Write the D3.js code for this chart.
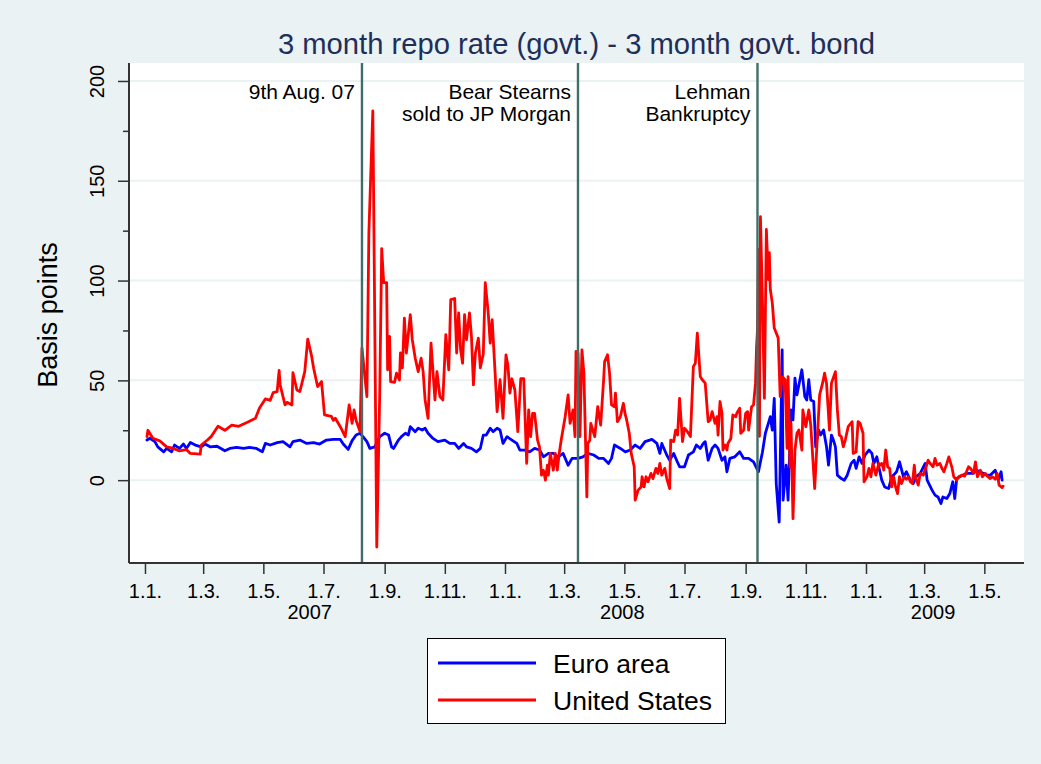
<!DOCTYPE html>
<html>
<head>
<meta charset="utf-8">
<script src="https://cdn.jsdelivr.net/npm/d3@7/dist/d3.min.js"></script>
<style>
  html, body { margin: 0; padding: 0; background: #eaf2f3; }
  svg { display: block; font-family: "Liberation Sans", Arial, sans-serif; }
</style>
</head>
<body>
<svg id="chart" width="1041" height="764"></svg>
<script>
// ---------------- DATA ----------------
const chartTitle = "3 month repo rate (govt.) - 3 month govt. bond";
const yAxisTitle = "Basis points";
const seriesNames = ["Euro area", "United States"];
const seriesColors = ["#0000ff", "#ff0000"];

const yTicks = [0, 50, 100, 150, 200];
const yMinorTicks = [25, 75, 125, 175];
const xTickDates = ["2007-01-01","2007-03-01","2007-05-01","2007-07-01","2007-09-01","2007-11-01",
  "2008-01-01","2008-03-01","2008-05-01","2008-07-01","2008-09-01","2008-11-01",
  "2009-01-01","2009-03-01","2009-05-01"];
const yearLabels = ["2007", "2008", "2009"];
const yearLabelDates = ["2007-06-17", "2008-04-29", "2009-03-10"];

const eventDates = ["2007-08-09", "2008-03-15", "2008-09-13"];
const eventLabels = [["9th Aug. 07"], ["Bear Stearns", "sold to JP Morgan"], ["Lehman", "Bankruptcy"]];

// Euro area
const euDates = [
"2007-01-03","2007-01-06","2007-01-11","2007-01-14","2007-01-20","2007-01-23","2007-01-28","2007-01-31",
"2007-02-05","2007-02-09","2007-02-12","2007-02-16","2007-02-21","2007-02-27","2007-03-03","2007-03-08",
"2007-03-15","2007-03-23","2007-03-28","2007-04-04","2007-04-11","2007-04-17","2007-04-24","2007-04-30",
"2007-05-03","2007-05-08","2007-05-15","2007-05-21","2007-05-28","2007-05-31","2007-06-07","2007-06-14",
"2007-06-21","2007-06-27","2007-07-04","2007-07-11","2007-07-18","2007-07-21","2007-07-26","2007-07-30",
"2007-08-03","2007-08-07","2007-08-10","2007-08-14","2007-08-17","2007-08-22","2007-08-27","2007-09-01",
"2007-09-05","2007-09-08","2007-09-10","2007-09-15","2007-09-18","2007-09-22","2007-09-25","2007-09-27",
"2007-10-02","2007-10-05","2007-10-09","2007-10-12","2007-10-15","2007-10-20","2007-10-25","2007-11-01",
"2007-11-06","2007-11-11","2007-11-15","2007-11-20","2007-11-23","2007-11-28","2007-12-03","2007-12-07",
"2007-12-10","2007-12-13","2007-12-17","2007-12-20","2007-12-24","2007-12-27","2007-12-30",
"2008-01-03","2008-01-08","2008-01-13","2008-01-16","2008-01-21","2008-01-26","2008-01-31","2008-02-05",
"2008-02-09","2008-02-14","2008-02-19","2008-02-24","2008-02-29","2008-03-05","2008-03-09","2008-03-15",
"2008-03-20","2008-03-25","2008-03-31","2008-04-05","2008-04-10","2008-04-15","2008-04-18","2008-04-21",
"2008-04-27","2008-05-02","2008-05-07","2008-05-12","2008-05-17","2008-05-22","2008-05-29","2008-06-03",
"2008-06-06","2008-06-08","2008-06-13","2008-06-16","2008-06-20","2008-06-23","2008-06-26","2008-07-01",
"2008-07-05","2008-07-10","2008-07-13","2008-07-17","2008-07-20","2008-07-22","2008-07-25","2008-07-29",
"2008-08-01","2008-08-04","2008-08-08","2008-08-11","2008-08-13","2008-08-16","2008-08-21","2008-08-26",
"2008-08-30","2008-09-04","2008-09-09","2008-09-14","2008-09-16","2008-09-18","2008-09-21","2008-09-24",
"2008-09-26","2008-09-28","2008-09-30","2008-10-02","2008-10-05","2008-10-08","2008-10-09","2008-10-12",
"2008-10-14","2008-10-17","2008-10-19","2008-10-21","2008-10-23","2008-10-26","2008-10-28","2008-10-31",
"2008-11-02","2008-11-04","2008-11-06","2008-11-09","2008-11-11","2008-11-14","2008-11-16","2008-11-19",
"2008-11-22","2008-11-24","2008-11-27","2008-11-29","2008-12-01","2008-12-03","2008-12-07","2008-12-10",
"2008-12-13","2008-12-17","2008-12-20","2008-12-22","2008-12-25","2008-12-28","2008-12-31",
"2009-01-04","2009-01-07","2009-01-09","2009-01-12","2009-01-14","2009-01-17","2009-01-20","2009-01-24",
"2009-01-27","2009-01-29","2009-02-01","2009-02-04","2009-02-08","2009-02-11","2009-02-15","2009-02-18",
"2009-02-21","2009-02-25","2009-03-02","2009-03-04","2009-03-09","2009-03-12","2009-03-15","2009-03-18",
"2009-03-20","2009-03-24","2009-03-27","2009-03-30","2009-04-01","2009-04-03","2009-04-06","2009-04-09",
"2009-04-13","2009-04-16","2009-04-20","2009-04-23","2009-04-27","2009-04-30","2009-05-04","2009-05-07",
"2009-05-12","2009-05-15","2009-05-18","2009-05-19"];
const euValues = [
20.1,21,19.3,16.7,14.2,15.9,14.2,17.6,
15.9,18.1,15.9,18.9,17.6,16.7,18.1,16.7,
17,14.7,15.9,16.4,15.9,16.4,15.9,14.2,
18.4,17.6,18.8,19.3,16.7,19.3,20.1,18.4,
18.8,18.1,20.1,20.4,20.4,18.1,15.4,19.8,
22.6,23.5,21.8,19.3,15.9,16.7,21.8,23.5,
22.6,16.7,15.9,20.1,21.8,23.5,22.6,26.8,
24.3,26,25.1,26,23.5,20.9,19.3,20.1,
18.4,18.4,15.9,18.4,16.7,15.9,14.2,15.9,
22.6,22.6,26,24.3,26,25.1,18.4,
21.8,20.1,18.4,15.1,15.1,14.2,15.9,15.1,
11.7,13.4,13.4,11.7,13.4,7.5,10.9,10.9,
11.7,13.4,12.6,10.9,10.9,8.4,10.9,17.6,
15.9,14.2,15.1,17.6,15.9,19.3,20.4,18.4,
13.4,18.4,12.6,10,13.4,10,6.7,6.7,
12.6,14.2,17.6,15.9,18.4,19.3,10,15.9,
17.6,15.9,10,11.7,4.2,10.9,11.7,14.2,
10.9,10.9,9.2,4.2,9.2,14,23.5,28.5,
31.8,25.1,41,-1.7,-21,65.3,-10,7.5,
-10,35.2,30.2,51.1,42.7,50.3,55.3,41.9,
40.2,50.3,40.2,39.4,16.7,25.1,22.6,25.1,
16.7,7.5,22.6,20.1,16.7,2.5,0.8,0,
2.5,8.4,10,5.9,11.7,8.4,12.6,
15.1,13.4,8.4,11.7,6.7,0,-3.4,-4.2,
1.7,2.5,4.2,9.2,1.7,4.2,0,-1.7,
1.7,3.4,8.4,0,-5,-7.5,-8.4,-11.7,
-8.4,-9.2,-6.7,-0.8,-9.2,0.8,1.7,2.5,
3.4,3.4,3.4,5,4.2,3.4,2.5,2.5,
5,0,4.2,0];

// United States
const usDates = [
"2007-01-03","2007-01-04","2007-01-09","2007-01-16","2007-01-23","2007-01-29","2007-02-05","2007-02-12",
"2007-02-16","2007-02-26","2007-02-27","2007-03-05","2007-03-09","2007-03-16","2007-03-23","2007-03-30",
"2007-04-06","2007-04-16","2007-04-23","2007-04-27","2007-05-03","2007-05-08","2007-05-11","2007-05-15",
"2007-05-17","2007-05-18","2007-05-23","2007-05-25","2007-05-30","2007-05-31","2007-06-04","2007-06-07",
"2007-06-12","2007-06-15","2007-06-19","2007-06-21","2007-06-25","2007-06-29","2007-07-02","2007-07-09",
"2007-07-11","2007-07-13","2007-07-18","2007-07-23","2007-07-27","2007-07-30","2007-08-01","2007-08-03",
"2007-08-07","2007-08-09","2007-08-14","2007-08-16","2007-08-20","2007-08-21","2007-08-24","2007-08-27",
"2007-08-29","2007-08-31","2007-09-03","2007-09-04","2007-09-06","2007-09-07","2007-09-11","2007-09-13",
"2007-09-16","2007-09-17","2007-09-19","2007-09-21","2007-09-23","2007-09-27","2007-09-29","2007-10-02",
"2007-10-05","2007-10-08","2007-10-10","2007-10-12","2007-10-15","2007-10-18","2007-10-22","2007-10-24",
"2007-10-27","2007-10-30","2007-11-02","2007-11-05","2007-11-07","2007-11-11","2007-11-13","2007-11-15",
"2007-11-17","2007-11-19","2007-11-21","2007-11-23","2007-11-26","2007-11-28","2007-11-30","2007-12-02",
"2007-12-05","2007-12-07","2007-12-10","2007-12-12","2007-12-15","2007-12-17","2007-12-19","2007-12-22",
"2007-12-24","2007-12-27","2007-12-30",
"2008-01-02","2008-01-04","2008-01-06","2008-01-08","2008-01-11","2008-01-14","2008-01-17","2008-01-20",
"2008-01-23","2008-01-25","2008-01-27","2008-01-29","2008-01-31","2008-02-03","2008-02-05","2008-02-07",
"2008-02-09","2008-02-11","2008-02-13","2008-02-14","2008-02-16","2008-02-19","2008-02-21","2008-02-23",
"2008-02-25","2008-02-27","2008-03-02","2008-03-05","2008-03-07","2008-03-10","2008-03-12","2008-03-13",
"2008-03-15","2008-03-17","2008-03-19","2008-03-21","2008-03-24","2008-03-25","2008-03-27","2008-03-28",
"2008-03-31","2008-04-01","2008-04-04","2008-04-05","2008-04-07","2008-04-10","2008-04-11","2008-04-14",
"2008-04-16","2008-04-18","2008-04-21","2008-04-22","2008-04-24","2008-04-27","2008-04-30","2008-05-02",
"2008-05-03","2008-05-06","2008-05-08","2008-05-11","2008-05-12","2008-05-15","2008-05-18","2008-05-19",
"2008-05-21","2008-05-23","2008-05-25","2008-05-28","2008-05-30","2008-06-02","2008-06-04","2008-06-06",
"2008-06-08","2008-06-11","2008-06-13","2008-06-16","2008-06-17","2008-06-20","2008-06-22","2008-06-24",
"2008-06-26","2008-06-29","2008-07-01","2008-07-04","2008-07-07","2008-07-10","2008-07-12","2008-07-14",
"2008-07-17","2008-07-19","2008-07-22","2008-07-25","2008-07-27","2008-07-29","2008-08-01","2008-08-03",
"2008-08-04","2008-08-06","2008-08-08","2008-08-09","2008-08-11","2008-08-13","2008-08-14","2008-08-17",
"2008-08-19","2008-08-22","2008-08-23","2008-08-26","2008-08-27","2008-08-30","2008-09-01","2008-09-03",
"2008-09-04","2008-09-07","2008-09-09","2008-09-11","2008-09-12","2008-09-13","2008-09-14","2008-09-15",
"2008-09-16","2008-09-18","2008-09-20","2008-09-22","2008-09-24","2008-09-25","2008-09-26","2008-09-28",
"2008-09-30","2008-10-02","2008-10-04","2008-10-06","2008-10-08","2008-10-11","2008-10-13","2008-10-14",
"2008-10-16","2008-10-17","2008-10-19","2008-10-21","2008-10-23","2008-10-25","2008-10-28","2008-10-29",
"2008-11-01","2008-11-04","2008-11-06","2008-11-10","2008-11-12","2008-11-15","2008-11-18","2008-11-20",
"2008-11-22","2008-11-25","2008-11-27","2008-12-01","2008-12-03","2008-12-05","2008-12-07","2008-12-09",
"2008-12-11","2008-12-14","2008-12-18","2008-12-19","2008-12-22","2008-12-24","2008-12-26","2008-12-29",
"2008-12-30",
"2009-01-02","2009-01-04","2009-01-06","2009-01-08","2009-01-11","2009-01-14","2009-01-15","2009-01-17",
"2009-01-19","2009-01-21","2009-01-23","2009-01-25","2009-01-27","2009-01-29","2009-01-31","2009-02-02",
"2009-02-04","2009-02-06","2009-02-09","2009-02-11","2009-02-13","2009-02-15","2009-02-17","2009-02-19",
"2009-02-20","2009-02-23","2009-02-25","2009-02-28","2009-03-03","2009-03-05","2009-03-07","2009-03-10",
"2009-03-12","2009-03-14","2009-03-17","2009-03-19","2009-03-21","2009-03-24","2009-03-26","2009-03-29",
"2009-03-31","2009-04-03","2009-04-05","2009-04-08","2009-04-11","2009-04-15","2009-04-17","2009-04-20",
"2009-04-22","2009-04-24","2009-04-27","2009-04-29","2009-05-02","2009-05-04","2009-05-07","2009-05-09",
"2009-05-12","2009-05-14","2009-05-16","2009-05-19","2009-05-20"];
const usValues = [
21.8,25,21,19.7,16.7,16,14.7,15.3,
13.4,13,17.6,20,21.8,27,25,27.6,
27,29.3,31,36,40.7,40,43.9,44.4,
55,47.7,37.7,39,37.7,53.9,45.2,44.4,
54.4,70.7,62,56.1,46.9,49.4,32.7,32,
30,31,26.8,21.8,37.7,28.5,35.2,30,
24.3,66.2,41.9,124,185,132,-33.5,43.6,
116,99,99,55.3,72,49.4,49,53.6,
50.2,63.7,56.3,81.2,63.7,82.9,70.4,61.1,
54.4,61.1,54.4,40.2,31,68.7,40.2,54.4,
41.9,40.2,72.9,55.3,90.5,91,63.7,83.8,
65.3,58.6,82.9,70.4,83.8,72,47.7,63.7,
71.2,56.3,63.2,99,83.8,68.7,80.4,53.6,
34.3,50.3,31,
62.8,57.3,43.6,50.8,45.2,24.3,50.8,50.8,
8.4,35.2,21.8,33.5,33.5,20.1,16.7,2.5,
5,0,7.5,2.5,13.4,5,13.4,5,
13.4,20.1,31.8,42.7,28.5,35.2,21.8,64.5,
63.7,21.8,65.3,53.6,-8.4,18.4,20,28.5,
23.5,21.8,36.8,33.5,27.6,50.3,59.4,62.8,
53.6,37.7,36.8,43.6,29.3,31.8,38.5,32.7,
31,23.5,13.4,6.7,-10,-5,-3.4,1.7,
-3.4,1.7,-0.8,3.4,0.8,5.9,3.4,8.4,
2.5,5.9,0.8,-4.2,20.1,19.3,25.1,22.6,
41,19.3,26,24.3,21.8,57,58.6,73.7,
51.9,50.3,48.6,29.3,30.2,34.3,28.5,31.8,
22.6,39.4,33.5,15.1,17.6,15.1,18.4,20.9,
32.7,31.8,33.5,36,23.5,25.1,33.5,34.3,
25.1,36.8,37.7,48.6,66,75.4,115.6,22,
132,90,41,125.6,100.5,114,95.5,88.8,
76.2,73.7,71.2,41.9,51.9,50.3,15.9,51.9,
6.7,28.5,-19.3,15.1,23.5,25.1,15.1,35.2,
26.8,35.2,27.6,-4.2,15.1,42.7,48.6,53.6,
48.6,25.1,48.6,54.4,35.2,22.6,21.8,16.7,
20.1,26.8,29.3,13.4,14.2,29.3,28.5,23.5,
-0.8,
1.7,5.9,1.7,8.4,2.5,8.4,7.5,8.4,
5,15.1,6.7,5.9,-3.4,1.7,-3.4,-6.7,
1.7,-1.7,1.7,0.5,1.7,-0.8,-1.7,7.5,
1.7,-2.5,3.4,2.5,6.7,10,8.4,6.7,
10.9,7.5,8.4,5.9,4.2,8.4,11.7,6.7,
1.7,0,1.7,2.5,2,6.7,5.9,3.4,
9.2,1.7,5,1.7,3.4,2,0.8,1.7,
0.5,3.4,-2.5,-3.7,-3];

// ---------------- CHART ----------------
const parse = d3.timeParse("%Y-%m-%d");
const svg = d3.select("#chart");
const W = 1041, H = 764;
const plot = { left: 129, right: 1024, top: 63, bottom: 563 };

svg.append("rect").attr("width", W).attr("height", H).attr("fill", "#eaf2f3");
svg.append("rect").attr("x", plot.left).attr("y", plot.top)
  .attr("width", plot.right - plot.left).attr("height", plot.bottom - plot.top)
  .attr("fill", "#ffffff");

const x = d3.scaleTime()
  .domain([new Date(2006, 11, 15, 19), new Date(2009, 5, 10, 5)])
  .range([plot.left, plot.right]);
const y = d3.scaleLinear().domain([-41.5, 209]).range([plot.bottom, plot.top]);

// gridlines
svg.append("g").selectAll("line").data(yTicks).join("line")
  .attr("x1", plot.left).attr("x2", plot.right)
  .attr("y1", d => y(d)).attr("y2", d => y(d))
  .attr("stroke", "#eaf2f3").attr("stroke-width", 2);

// series
const euData = euDates.map((d, i) => ({ date: parse(d), value: euValues[i] }));
const usData = usDates.map((d, i) => ({ date: parse(d), value: usValues[i] }));
const line = d3.line().x(d => x(d.date)).y(d => y(d.value));
[euData, usData].forEach((data, i) => {
  svg.append("path").datum(data)
    .attr("d", line).attr("fill", "none")
    .attr("stroke", seriesColors[i]).attr("stroke-width", 2.8)
    .attr("stroke-linejoin", "round").attr("stroke-linecap", "round");
});

// event lines
const evG = svg.append("g");
eventDates.forEach((ds, i) => {
  const ex = x(parse(ds));
  evG.append("line").attr("x1", ex).attr("x2", ex)
    .attr("y1", plot.top).attr("y2", plot.bottom)
    .attr("stroke", "#3f6f68").attr("stroke-width", 2.4);
  eventLabels[i].forEach((t, j) => {
    evG.append("text").attr("x", ex - 7).attr("y", 99 + j * 21.5)
      .attr("text-anchor", "end").attr("font-size", 21).attr("fill", "#000")
      .text(t);
  });
});

// axes
const axisColor = "#333333";
const xAxis = d3.axisBottom(x)
  .tickValues(xTickDates.map(parse))
  .tickFormat(d3.timeFormat("%-d.%-m."))
  .tickSize(11).tickSizeOuter(0).tickPadding(10);
const gx = svg.append("g").attr("transform", `translate(0,${plot.bottom})`).call(xAxis);
gx.select(".domain").attr("stroke", axisColor).attr("stroke-width", 2)
  .attr("d", `M${plot.left},0H${plot.right}`);
gx.selectAll(".tick line").attr("stroke", axisColor).attr("stroke-width", 1.5);
gx.selectAll(".tick text").attr("font-size", 20).attr("fill", "#000")
  .attr("font-family", "Liberation Sans, Arial, sans-serif");

// year labels
svg.append("g").selectAll("text").data(yearLabels).join("text")
  .attr("x", (d, i) => x(parse(yearLabelDates[i])))
  .attr("y", 619).attr("text-anchor", "middle")
  .attr("font-size", 20).attr("fill", "#000").text(d => d);

const yAxis = d3.axisLeft(y).tickValues(yTicks).tickSize(11).tickSizeOuter(0);
const gy = svg.append("g").attr("transform", `translate(${plot.left},0)`).call(yAxis);
gy.select(".domain").attr("stroke", axisColor).attr("stroke-width", 2)
  .attr("d", `M0,${plot.top}V${plot.bottom}`);
gy.selectAll(".tick line").attr("stroke", axisColor).attr("stroke-width", 1.5);
gy.selectAll(".tick text")
  .attr("transform", "rotate(-90)")
  .attr("x", 0).attr("y", -25).attr("dy", null)
  .attr("text-anchor", "middle")
  .attr("font-size", 20).attr("fill", "#000")
  .attr("font-family", "Liberation Sans, Arial, sans-serif");

const yMinor = d3.axisLeft(y).tickValues(yMinorTicks).tickSize(6).tickFormat("");
const gym = svg.append("g").attr("transform", `translate(${plot.left},0)`).call(yMinor);
gym.select(".domain").remove();
gym.selectAll(".tick line").attr("stroke", axisColor).attr("stroke-width", 1.5);

// axis title
svg.append("text")
  .attr("transform", `translate(57,${(plot.top + plot.bottom) / 2 + 2}) rotate(-90)`)
  .attr("text-anchor", "middle").attr("font-size", 27).attr("fill", "#000")
  .text(yAxisTitle);

// title
svg.append("text").attr("x", (plot.left + plot.right) / 2).attr("y", 54)
  .attr("text-anchor", "middle").attr("font-size", 29.2).attr("fill", "#1e2f5a")
  .text(chartTitle);

// legend
const lg = svg.append("g");
lg.append("rect").attr("x", 427.5).attr("y", 638.5).attr("width", 298).attr("height", 85)
  .attr("fill", "#ffffff").attr("stroke", "#000").attr("stroke-width", 1);
seriesNames.forEach((name, i) => {
  const ly = 663 + i * 37;
  lg.append("line").attr("x1", 438).attr("x2", 536).attr("y1", ly).attr("y2", ly)
    .attr("stroke", seriesColors[i]).attr("stroke-width", 2.8);
  lg.append("text").attr("x", 553).attr("y", ly + 9.8)
    .attr("font-size", 26.5).attr("fill", "#000").text(name);
});
</script>
</body>
</html>
